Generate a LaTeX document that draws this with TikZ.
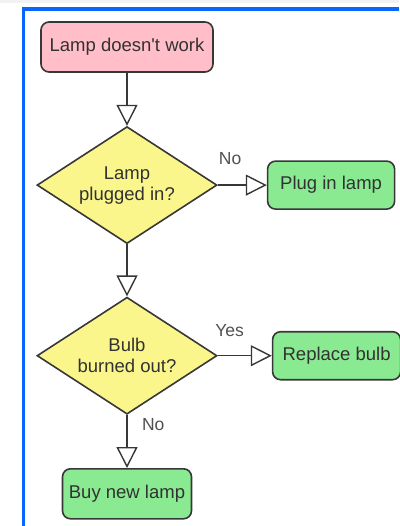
\documentclass[tikz,border=0pt]{standalone}
\usepackage{fontspec}
\setmainfont{Liberation Sans}
\usetikzlibrary{shapes,arrows.meta,positioning}
\definecolor{lightpink}{RGB}{255,190,200}
\definecolor{lightgreen}{RGB}{137,234,146}
\definecolor{lightyellow}{RGB}{250,246,140}
\definecolor{framblue}{RGB}{10,100,255}
\definecolor{edgegray}{RGB}{55,55,55}
\definecolor{textgray}{RGB}{50,50,50}

\begin{document}
\begin{tikzpicture}[
    x=1pt, y=1pt,
    box/.style={rectangle, draw=edgegray, line width=1.6pt, rounded corners=8pt, minimum height=48pt, text=textgray, font=\fontsize{18.5}{21}\selectfont},
    decision/.style={diamond, aspect=1.55, draw=edgegray, line width=1.6pt, fill=lightyellow, minimum width=180pt, minimum height=117pt, inner sep=0pt, align=center, text=textgray, font=\fontsize{18.5}{21}\selectfont},
    flow/.style={-{Triangle[open, length=21pt, width=21pt, line width=1.4pt]}, line width=1.5pt, draw=edgegray},
    lbl/.style={text=textgray!85, font=\fontsize{17.5}{21}\selectfont}
]
    \useasboundingbox (0,0) rectangle (399,-526);
    \fill[black!5] (0,0) rectangle (399,-3);
    \draw[framblue, line width=3.5pt] (23.5,-526) -- (23.5,-9) -- (399,-9);

    \node[box, fill=lightpink, minimum width=172pt, minimum height=50pt] (start) at (127,-47) {Lamp doesn\textquotesingle t work};
    \node[decision, below=53pt of start] (plugged) {Lamp\\plugged in?};
    \node[box, fill=lightgreen, minimum width=127pt, right=49pt of plugged] (plugin) {Plug in lamp};
    \node[decision, below=52pt of plugged] (burned) {Bulb\\burned out?};
    \node[box, fill=lightgreen, minimum width=128pt, right=54pt of burned] (replace) {Replace bulb};
    \node[box, fill=lightgreen, minimum width=129pt, minimum height=50pt, below=53pt of burned] (buy) {Buy new lamp};

    \draw[flow] (start) -- (plugged);
    \draw[flow] (plugged) -- node[lbl, pos=0.25, anchor=base, yshift=21pt] {No} (plugin);
    \draw[flow] (plugged) -- (burned);
    \draw[flow] (burned) -- node[lbl, pos=0.22, anchor=base, yshift=19pt] {Yes} (replace);
    \draw[flow] (burned) -- node[lbl, pos=0.3, anchor=base west, xshift=11pt] {No} (buy);
\end{tikzpicture}
\end{document}
